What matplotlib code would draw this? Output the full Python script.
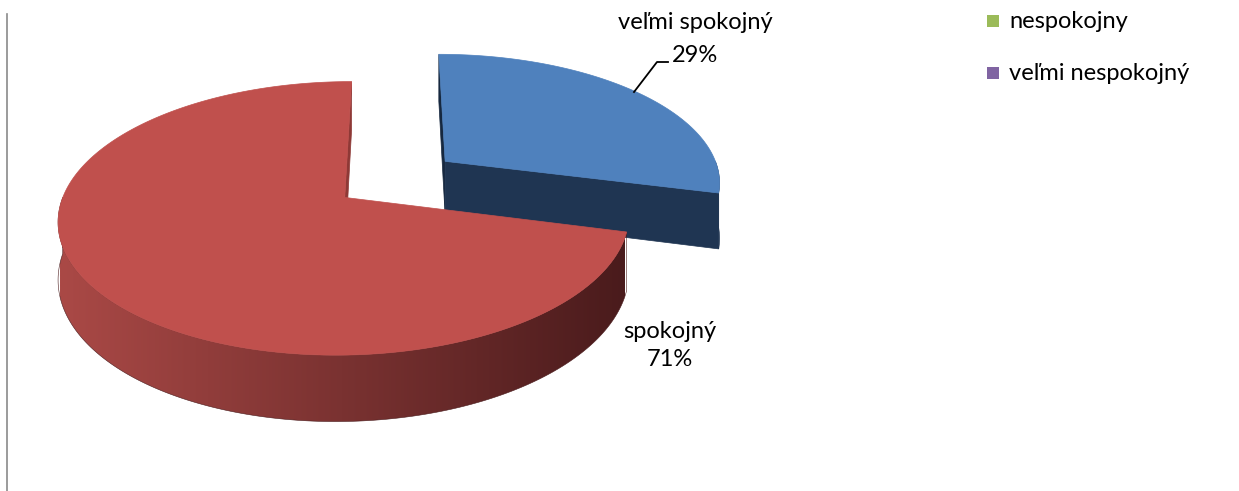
import numpy as np
import matplotlib
matplotlib.use('Agg')
import matplotlib.pyplot as plt
from matplotlib.patches import Polygon, Rectangle
from matplotlib.colors import to_rgb, LinearSegmentedColormap

# data
categories = ['veľmi spokojný', 'spokojný', 'nespokojny', 'veľmi nespokojný']
values = [29, 71, 0, 0]
top_colors = ['#4F81BD', '#C0504D', '#9BBB59', '#8064A2']
side_colors = [('#1F3552', '#1F3552'), ('#AA4946', '#4A1B1C'), ('#6A8A35', '#3E5220'), ('#554070', '#30243F')]
sliver_colors = ['#16283F', '#8E3936', '#5A7A2C', '#4A365F']

# pie projection (pixel space)
CX, CY = 396, 179
A, B = 276, 128
K = 0.15
H = 55
EXPLODE = 0.23
CAM = np.array([0.0, -1.0 / K])


def proj(X, Y, Z=0.0):
    w = 1 + K * np.asarray(Y, dtype=float)
    return CX + A * np.asarray(X) / w, CY - B * np.asarray(Y) / w + H * np.asarray(Z) / w


fig = plt.figure(figsize=(12.39, 4.91), dpi=100)
ax = fig.add_axes([0, 0, 1, 1])
ax.set_xlim(0, 1239)
ax.set_ylim(491, 0)
ax.axis('off')

total = sum(values)
cum = np.cumsum([0] + values) / total * 2 * np.pi
slices = []
for i, v in enumerate(values):
    if v <= 0:
        continue
    t0, t1 = cum[i], cum[i + 1]
    mid = (t0 + t1) / 2
    off = EXPLODE * np.array([np.sin(mid), np.cos(mid)])
    slices.append((off[1], i, t0, t1, off))

# far slices first
slices.sort(key=lambda s: -s[0])

for _, i, t0, t1, off in slices:
    ox, oy = off
    ts = np.linspace(t0, t1, 600)
    rx, ry = ox + np.sin(ts), oy + np.cos(ts)

    # radial side faces
    for t, sgn in ((t0, -1), (t1, 1)):
        d = np.array([np.sin(t), np.cos(t)])
        n = sgn * np.array([d[1], -d[0]])
        p = off + 0.5 * d
        if np.dot(n, CAM - p) <= 0:
            continue
        px, py = proj([ox, ox + d[0], ox + d[0], ox], [oy, oy + d[1], oy + d[1], oy], [0, 0, 1, 1])
        col = side_colors[i][0] if (i == 0 and t == t1) else sliver_colors[i]
        ax.add_patch(Polygon(np.c_[px, py], closed=True, fc=col, ec=col, lw=0.5))

    # outer wall (front facing part), shaded left to right
    front = np.cos(ts) < 0
    if front.sum() > 1:
        fx, fy = rx[front], ry[front]
        tx, ty = proj(fx, fy, 0)
        bx, by = proj(fx, fy, 1)
        wall = np.r_[np.c_[tx, ty], np.c_[bx, by][::-1]]
        c0, c1 = side_colors[i]
        patch = Polygon(wall, closed=True, fc='none', ec='none')
        ax.add_patch(patch)
        cmap = LinearSegmentedColormap.from_list('wall%d' % i, [c0, c1])
        grad = np.linspace(0, 1, 256)[None, :]
        x0, x1 = wall[:, 0].min(), wall[:, 0].max()
        y0, y1 = wall[:, 1].min(), wall[:, 1].max()
        if i == 1:
            gx0, gx1 = 60, 625
        else:
            gx0, gx1 = x0, x1
        im = ax.imshow(grad, cmap=cmap, aspect='auto', extent=(gx0, gx1, y1, y0),
                       interpolation='bilinear')
        im.set_clip_path(patch)
        # cover range outside gradient extent
        ax.add_patch(Polygon(wall, closed=True, fc='none', ec=c1, lw=0.4))
        ax.set_xlim(0, 1239)
        ax.set_ylim(491, 0)

    # top face
    px, py = proj(np.r_[ox, rx], np.r_[oy, ry])
    ax.add_patch(Polygon(np.c_[px, py], closed=True, fc=top_colors[i], ec=top_colors[i], lw=0.5))

fam = ['Lato', 'DejaVu Sans']
pct = [round(v / total * 100) for v in values]
ax.text(695, 22, categories[0], ha='center', va='center', fontsize=17, family=fam, color='black')
ax.text(695, 55, '%d%%' % pct[0], ha='center', va='center', fontsize=17, family=fam, color='black')
ax.plot([634, 657, 668], [92, 62, 62], color='black', lw=1.3)
ax.text(670, 331, categories[1], ha='center', va='center', fontsize=17, family=fam, color='black')
ax.text(670, 360, '%d%%' % pct[1], ha='center', va='center', fontsize=17, family=fam, color='black')

# legend (only the lower entries are visible)
for k, yc in zip((2, 3), (21, 73)):
    ax.add_patch(Rectangle((987, yc - 6), 12, 12, fc=top_colors[k], ec='none'))
    ax.text(1009, yc, categories[k], ha='left', va='center', fontsize=17, family=fam, color='black')

# left border line
ax.plot([7, 7], [14, 491], color='#8A8A8A', lw=1.2)

fig.savefig('out.png', dpi=100, facecolor='white')
